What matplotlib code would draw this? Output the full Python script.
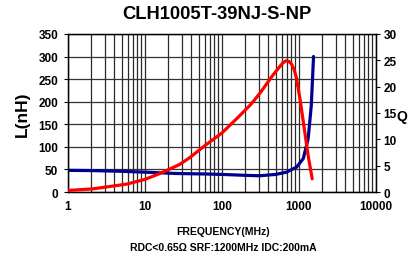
import matplotlib
matplotlib.use("Agg")
import matplotlib.pyplot as plt
from matplotlib.ticker import FixedLocator, NullFormatter, LogLocator

plt.rcParams['font.family'] = ['Liberation Sans', 'DejaVu Sans']

title = "CLH1005T-39NJ-S-NP"
xlabel = "FREQUENCY(MHz)"
note = "RDC<0.65\u03a9 SRF:1200MHz IDC:200mA"

freq_L = [1, 2, 4.8, 10, 26, 60, 100, 200, 310, 500, 690, 930, 1140, 1320, 1450, 1550]
L_nH = [48, 47.5, 46, 44, 41, 40, 39, 37, 36, 39, 44, 55, 74, 118, 192, 300]

freq_Q = [1, 2.1, 5.8, 10, 15.6, 28, 38, 60, 100, 163, 240, 310, 450, 550, 620, 680,
          740, 800, 870, 930, 1030, 1140, 1320, 1490]
Q = [0.3, 0.6, 1.5, 2.4, 3.5, 5.2, 6.5, 8.8, 11.2, 14.2, 16.7, 18.7, 22, 23.6, 24.5, 24.9,
     24.8, 24.3, 23.2, 21.6, 17.8, 13.4, 6.9, 2.5]

left_ticks = [0, 50, 100, 150, 200, 250, 300, 350]
right_ticks = [0, 5, 10, 15, 20, 25, 30]
x_ticks = [1, 10, 100, 1000, 10000]

fig = plt.figure(figsize=(4.09, 2.55), dpi=100)
ax = fig.add_axes([0.166, 0.243, 0.753, 0.62])
ax.set_xscale('log')
ax.set_xlim(1, 10000)
ax.set_ylim(0, 350)
ax.xaxis.set_major_locator(FixedLocator(x_ticks))
ax.xaxis.set_minor_locator(LogLocator(base=10, subs=range(2, 10)))
ax.xaxis.set_minor_formatter(NullFormatter())
ax.set_xticklabels([str(t) for t in x_ticks], fontsize=8.5, fontweight='bold')
ax.set_yticks(left_ticks)
ax.set_yticklabels([str(t) for t in left_ticks], fontsize=8.5, fontweight='bold')
ax.grid(True, which='both', axis='x', color='#2a2a2a', lw=0.9)
ax.grid(True, which='major', axis='y', color='#333333', lw=0.9)
ax.tick_params(axis='x', which='both', length=0, pad=6)
ax.tick_params(axis='y', length=3, pad=4)
for s in ax.spines.values():
    s.set_color('black')
    s.set_linewidth(1.0)

ax.plot(freq_L, L_nH, color='#000090', lw=2.3, solid_capstyle='round', zorder=3)

ax2 = ax.twinx()
ax2.set_ylim(0, 30)
ax2.set_yticks(right_ticks)
ax2.set_yticklabels([str(t) for t in right_ticks], fontsize=8.5, fontweight='bold')
ax2.tick_params(axis='y', length=3, pad=2.5)
ax2.plot(freq_Q, Q, color='#ff0000', lw=2.3, solid_capstyle='round', zorder=3)

ax.set_ylabel("L(nH)", fontsize=12.5, fontweight='bold', labelpad=6)
fig.text(396 / 409, 1 - 117 / 255, "Q", fontsize=10, fontweight='bold',
         ha='left', va='center')

fig.text(0.53, 0.945, title, fontsize=13.2, fontweight='bold', ha='center', va='center')
fig.text(0.545, 0.092, xlabel, fontsize=7.5, fontweight='bold', ha='center', va='center')
fig.text(0.545, 0.027, note, fontsize=7.5, fontweight='bold', ha='center', va='center')

fig.savefig("out.png", dpi=100)
